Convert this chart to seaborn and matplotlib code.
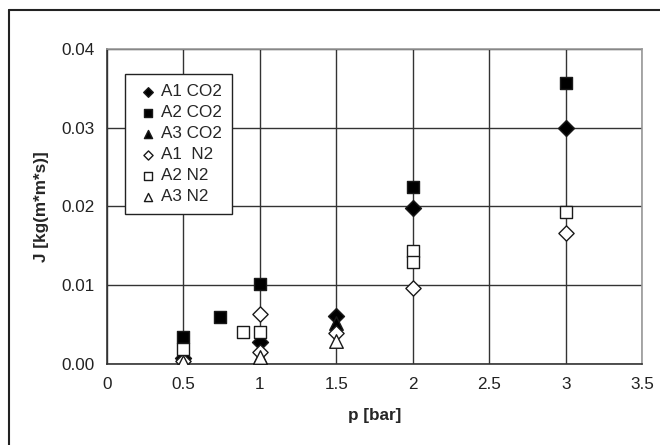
import numpy as np
import pandas as pd
import seaborn as sns
import matplotlib.pyplot as plt
from matplotlib.lines import Line2D

# Data: pressure [bar] and flux J [kg/(m*m*s)]
a1_co2_p = [0.5, 1.0, 1.5, 2.0, 3.0]
a1_co2_j = [0.0008, 0.0028, 0.0061, 0.0198, 0.0300]

a2_co2_p = [0.5, 0.74, 1.0, 2.0, 3.0]
a2_co2_j = [0.0034, 0.0060, 0.0102, 0.0225, 0.0357]

a3_co2_p = [0.5, 1.0, 1.5]
a3_co2_j = [0.0005, 0.0009, 0.0052]

a1_n2_p = [0.5, 1.0, 1.0, 1.5, 2.0, 3.0]
a1_n2_j = [0.0004, 0.0063, 0.0015, 0.0040, 0.0096, 0.0166]

a2_n2_p = [0.5, 0.89, 1.0, 2.0, 2.0, 3.0]
a2_n2_j = [0.0019, 0.0041, 0.0041, 0.0143, 0.0130, 0.0193]

a3_n2_p = [0.5, 1.0, 1.5]
a3_n2_j = [0.0003, 0.0009, 0.0029]

x_ticks = [0, 0.5, 1, 1.5, 2, 2.5, 3, 3.5]
y_ticks = [0.00, 0.01, 0.02, 0.03, 0.04]

series = [
    ('A1 CO2', a1_co2_p, a1_co2_j, 'D', 'black', 66),
    ('A2 CO2', a2_co2_p, a2_co2_j, 's', 'black', 81),
    ('A3 CO2', a3_co2_p, a3_co2_j, '^', 'black', 95),
    ('A1  N2', a1_n2_p, a1_n2_j, 'D', 'white', 60),
    ('A2 N2', a2_n2_p, a2_n2_j, 's', 'white', 81),
    ('A3 N2', a3_n2_p, a3_n2_j, '^', 'white', 95),
]

sns.set_style('white')
plt.rcParams['font.family'] = ['Liberation Sans', 'DejaVu Sans']

fig = plt.figure(figsize=(6.6, 4.45), dpi=100)
ax = fig.add_axes([0.162, 0.182, 0.811, 0.708])

for label, p, j, marker, face, size in series:
    df = pd.DataFrame({'p': p, 'J': j})
    sns.scatterplot(
        data=df, x='p', y='J', ax=ax,
        marker=marker, color=face, edgecolor='#1a1a1a',
        linewidth=1.0, s=size, zorder=3, label=label
    )

ax.set_xlim(0, 3.5)
ax.set_ylim(0, 0.04)
ax.set_xticks(x_ticks)
ax.set_xticklabels([f'{t:g}' for t in x_ticks])
ax.set_yticks(y_ticks)
ax.set_yticklabels([f'{t:.2f}' for t in y_ticks])
ax.tick_params(axis='both', labelsize=12.3, colors='#222222',
               direction='out', length=4, width=1, pad=5)

ax.grid(True, color='#333333', linewidth=1.0, zorder=0)
ax.set_axisbelow(True)

for side in ['left', 'bottom']:
    ax.spines[side].set_color('#333333')
    ax.spines[side].set_linewidth(1.2)
for side in ['top', 'right']:
    ax.spines[side].set_color('#999999')
    ax.spines[side].set_linewidth(1.2)

ax.set_xlabel('p [bar]', fontsize=12.3, fontweight='bold', labelpad=12)
ax.set_ylabel('J [kg(m*m*s)]', fontsize=12.3, fontweight='bold', labelpad=9)

leg = ax.legend(
    loc='upper left', bbox_to_anchor=(0.034, 0.921), borderaxespad=0,
    frameon=True, fancybox=False, edgecolor='#222222', framealpha=1,
    fontsize=12.3, markerscale=0.6, handletextpad=0.0, handlelength=1.5,
    labelspacing=0.35, borderpad=0.6
)
leg.get_frame().set_linewidth(1.0)

# outer frame of the original picture (only left and top edges show)
fig.add_artist(Line2D([9 / 660, 9 / 660], [0, 1 - 10 / 445],
                      color='#222222', linewidth=1.5))
fig.add_artist(Line2D([9 / 660, 1], [1 - 10 / 445, 1 - 10 / 445],
                      color='#222222', linewidth=1.5))

fig.savefig('out.png', dpi=100)
